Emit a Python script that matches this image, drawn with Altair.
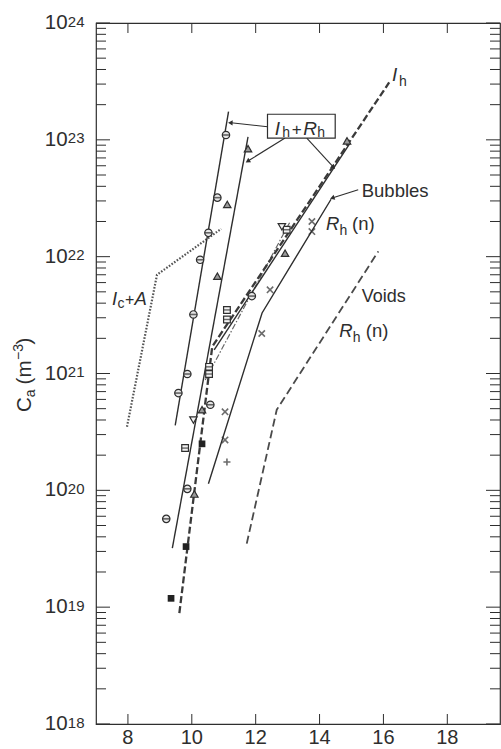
import altair as alt
import pandas as pd

FONT = "Liberation Sans"
INK = "#2e2e2e"

# ---------------- axes ----------------
X_DOMAIN = [7.0, 19.65]
Y_DOMAIN = [1e18, 1e24]
x_ticks = [8, 10, 12, 14, 16, 18]
decades = [18, 19, 20, 21, 22, 23, 24]
minor_mult = [2, 3, 4, 5, 6, 7, 8, 9]

# ---------------- curves ----------------
ica_x = [7.97, 8.91, 10.92]
ica_y = [3.5e20, 7.0e21, 1.73e22]

lineB_x = [9.48, 11.15]
lineB_y = [3.6e20, 1.74e23]

lineC_x = [9.39, 11.76]
lineC_y = [3.2e19, 1.06e23]

ih_x = [9.61, 10.64, 16.18]
ih_y = [8.9e18, 1.7e21, 3.1e23]

ihrh_x = [10.70, 14.96]
ihrh_y = [1.59e21, 9.4e22]

dashdot_x = [10.42, 13.08]
dashdot_y = [8.8e20, 2.0e22]

bubbles_x = [10.52, 12.20, 14.36]
bubbles_y = [1.14e20, 3.3e21, 3.1e22]

voids_x = [11.72, 12.66, 15.84]
voids_y = [3.5e19, 4.9e20, 1.11e22]

# ---------------- measured points ----------------
circ_x = [9.58, 9.86, 10.05, 10.26, 10.52, 10.80, 11.07, 9.20, 9.86, 10.58, 11.88]
circ_y = [6.8e20, 9.9e20, 3.2e21, 9.4e21, 1.6e22, 3.2e22, 1.1e23, 5.7e19, 1.03e20, 5.4e20, 4.6e21]

tri_x = [11.11, 11.76, 10.80, 10.08, 12.92, 10.32, 14.86]
tri_y = [2.8e22, 8.4e22, 6.8e21, 9.3e19, 1.07e22, 4.9e20, 9.8e22]

osq_x = [10.54, 10.54, 11.10, 11.10, 12.97, 9.79]
osq_y = [1.14e21, 9.9e20, 3.5e21, 2.9e21, 1.7e22, 2.3e20]

itri_x = [10.05, 12.82]
itri_y = [4.0e20, 1.8e22]

fsq_x = [10.32, 9.82, 9.35]
fsq_y = [2.5e20, 3.3e19, 1.19e19]

cross_x = [11.04, 11.04, 12.19, 12.45, 13.76, 13.76]
cross_y = [4.7e20, 2.7e20, 2.2e21, 5.2e21, 1.64e22, 2.0e22]

plus_x = [11.10]
plus_y = [1.75e20]

# ---------------- annotation geometry (data units) ----------------
box_x = [12.37, 14.49]
box_y = [1.656e23, 1.035e23]
arrow_left = ([12.37, 11.23], [1.294e23, 1.40e23])
arrow_mid = ([12.92, 11.77], [1.035e23, 6.62e22])
arrow_right = ([13.60, 14.42], [1.035e23, 5.89e22])
arrow_bub = ([15.21, 14.42], [3.74e22, 3.19e22])

W, H = 404, 701

xscale = alt.Scale(domain=X_DOMAIN, nice=False, zero=False)
yscale = alt.Scale(type="log", domain=Y_DOMAIN, nice=False)


def X(field="x"):
    return alt.X(f"{field}:Q", scale=xscale, axis=None)


def Y(field="y"):
    return alt.Y(f"{field}:Q", scale=yscale, axis=None)


def curve(xs, ys, **style):
    df = pd.DataFrame({"x": xs, "y": ys, "o": list(range(len(xs)))})
    return alt.Chart(df).mark_line(**style).encode(x=X(), y=Y(), order="o:O")


def points(xs, ys, **style):
    df = pd.DataFrame({"x": xs, "y": ys})
    return alt.Chart(df).mark_point(**style).encode(x=X(), y=Y())


def seg(pair, **style):
    (xa, xb), (ya, yb) = pair
    df = pd.DataFrame({"x": [xa], "x2": [xb], "y": [ya], "y2": [yb]})
    return alt.Chart(df).mark_rule(**style).encode(
        x=X(), x2="x2:Q", y=Y(), y2="y2:Q")


def head(pair, angle):
    (xa, xb), (ya, yb) = pair
    df = pd.DataFrame({"x": [xb], "y": [yb]})
    return alt.Chart(df).mark_point(
        shape="triangle", filled=True, color=INK, size=28, angle=angle, opacity=1
    ).encode(x=X(), y=Y())


def label(x, y, s, size=18, italic=False, dx=0, dy=0):
    return alt.Chart(alt.Data(values=[{"x": x, "y": y}])).mark_text(
        text=s, font=FONT, fontSize=size, color=INK, align="left",
        baseline="alphabetic", dx=dx, dy=dy,
        fontStyle="italic" if italic else "normal",
    ).encode(x=X(), y=Y())


def ptext(px, py, s, size, angle=0):
    return alt.Chart(alt.Data(values=[{}])).mark_text(
        text=s, font=FONT, fontSize=size, color=INK, align="left",
        baseline="alphabetic", angle=angle,
    ).encode(x=alt.value(px), y=alt.value(py))


# ---------------- frame ticks and tick labels ----------------
xt = pd.DataFrame({"x": x_ticks, "t": [str(v) for v in x_ticks]})
bottom_ticks = alt.Chart(xt).mark_rule(color=INK, strokeWidth=1).encode(
    x=X(), y=alt.value(H), y2=alt.value(H - 10))
top_ticks = alt.Chart(xt).mark_rule(color=INK, strokeWidth=1).encode(
    x=X(), y=alt.value(0), y2=alt.value(10))
x_labels = alt.Chart(xt).mark_text(
    font=FONT, fontSize=20, color=INK, align="center", baseline="alphabetic"
).encode(x=X(), y=alt.value(H + 20), text="t:N")

major = pd.DataFrame({"y": [10.0 ** d for d in decades], "e": [str(d) for d in decades]})
minor = pd.DataFrame({"y": [m * 10.0 ** d for d in decades[:-1] for m in minor_mult]})

left_major = alt.Chart(major).mark_rule(color=INK).encode(
    y=Y(), x=alt.value(0), x2=alt.value(14))
left_minor = alt.Chart(minor).mark_rule(color=INK).encode(
    y=Y(), x=alt.value(0), x2=alt.value(10))
right_major = alt.Chart(major).mark_rule(color=INK).encode(
    y=Y(), x=alt.value(W - 14), x2=alt.value(W))
right_minor = alt.Chart(minor).mark_rule(color=INK).encode(
    y=Y(), x=alt.value(W - 10), x2=alt.value(W))

ten = alt.Chart(major).mark_text(
    text="10", font=FONT, fontSize=20.5, color=INK, align="right", baseline="middle"
).encode(y=Y(), x=alt.value(-28.4))
expo = alt.Chart(major).mark_text(
    font=FONT, fontSize=15, color=INK, align="left", baseline="alphabetic", dy=3.5
).encode(y=Y(), x=alt.value(-28.2), text="e:N")

# y title: C_a (m^-3), reading bottom to top
ytitle = [
    ptext(-65, 389, "C", 20.5, 270),
    ptext(-61, 374.2, "a", 14, 270),
    ptext(-65, 361.4, "(m", 20.5, 270),
    ptext(-73, 337.0, "\u22123", 14, 270),
    ptext(-65, 321.5, ")", 20.5, 270),
]

# ---------------- curves ----------------
curves = [
    curve(ica_x, ica_y, color="#555", strokeWidth=2.2, strokeDash=[1.6, 1.6]),
    curve(lineB_x, lineB_y, color=INK, strokeWidth=1.4),
    curve(lineC_x, lineC_y, color=INK, strokeWidth=1.4),
    curve(dashdot_x, dashdot_y, color="#666", strokeWidth=1.2, strokeDash=[6, 2, 1.5, 2]),
    curve(ihrh_x, ihrh_y, color=INK, strokeWidth=1.4),
    curve(ih_x, ih_y, color="#3a3a3a", strokeWidth=2.3, strokeDash=[7, 3]),
    curve(bubbles_x, bubbles_y, color=INK, strokeWidth=1.4),
    curve(voids_x, voids_y, color="#4a4a4a", strokeWidth=1.8, strokeDash=[8, 4]),
]

# ---------------- markers ----------------
bar = "M-1,0L1,0"
markers = [
    points(circ_x, circ_y, shape="circle", filled=True, fill="#e6e6e6", stroke=INK,
           strokeWidth=1.2, size=55, opacity=1),
    points(circ_x, circ_y, shape=bar, filled=False, stroke=INK, strokeWidth=1.6, size=55),
    points(osq_x, osq_y, shape="square", filled=True, fill="#f2f2f2", stroke=INK,
           strokeWidth=1.2, size=45, opacity=1),
    points(osq_x, osq_y, shape=bar, filled=False, stroke=INK, strokeWidth=1.4, size=45),
    points(tri_x, tri_y, shape="triangle-up", filled=True, fill="#9a9a9a", stroke=INK,
           strokeWidth=1.2, size=55, opacity=1),
    points(itri_x, itri_y, shape="triangle-down", filled=True, fill="#f2f2f2", stroke=INK,
           strokeWidth=1.2, size=55, opacity=1),
    points(fsq_x, fsq_y, shape="square", filled=True, color="#222", size=45, opacity=1),
    points(cross_x, cross_y, shape="M-1,-1L1,1M1,-1L-1,1", filled=False, stroke=INK,
           strokeWidth=1.6, size=40),
    points(plus_x, plus_y, shape="M-1,0L1,0M0,-1L0,1", filled=False, stroke=INK,
           strokeWidth=1.6, size=50),
]

# ---------------- annotations ----------------
box = alt.Chart(pd.DataFrame({"x": [box_x[0]], "x2": [box_x[1]],
                              "y": [box_y[0]], "y2": [box_y[1]]})).mark_rect(
    fill="white", stroke=INK, strokeWidth=1.2
).encode(x=X(), x2="x2:Q", y=Y(), y2="y2:Q")

arrows = [
    seg(arrow_left, color=INK, strokeWidth=1.1), head(arrow_left, 272),
    seg(arrow_mid, color=INK, strokeWidth=1.1), head(arrow_mid, 238),
    seg(arrow_right, color=INK, strokeWidth=1.1), head(arrow_right, 137),
    seg(arrow_bub, color=INK, strokeWidth=1.1), head(arrow_bub, 252),
]

texts = [
    # I_h at the top of the dashed curve
    label(16.27, 3.16e23, "I", 19, italic=True),
    label(16.27, 3.16e23, "h", 14, dx=7, dy=4.5),
    # I_h + R_h inside the box
    label(12.60, 1.107e23, "I", 19, italic=True),
    label(12.60, 1.107e23, "h", 14, dx=7.5, dy=2.5),
    label(12.60, 1.107e23, "+", 17, dx=17),
    label(12.60, 1.107e23, "R", 19, italic=True, dx=28.5),
    label(12.60, 1.107e23, "h", 14, dx=42.5, dy=2.5),
    # Bubbles
    label(15.32, 3.27e22, "Bubbles", 18.5),
    # upper R_h (n)
    label(14.205, 1.70e22, "R", 18.5, italic=True),
    label(14.205, 1.70e22, "h", 14, dx=13.5, dy=5),
    label(14.205, 1.70e22, "(n)", 18.5, dx=26),
    # Voids
    label(15.32, 4.13e21, "Voids", 18),
    # lower R_h (n)
    label(14.62, 2.07e21, "R", 18.5, italic=True),
    label(14.62, 2.07e21, "h", 14, dx=13.5, dy=5),
    label(14.62, 2.07e21, "(n)", 18.5, dx=26.5),
    # I_c + A
    label(7.50, 3.87e21, "I", 18.5, italic=True),
    label(7.50, 3.87e21, "c", 14, dx=5.5, dy=3),
    label(7.50, 3.87e21, "+", 16, dx=13),
    label(7.50, 3.87e21, "A", 18.5, italic=True, dx=22.5),
]

chart = alt.layer(
    bottom_ticks, top_ticks, x_labels, left_major, left_minor, right_major, right_minor,
    ten, expo, *ytitle, *curves, *markers, *arrows, box, *texts,
).properties(
    width=W, height=H,
    autosize=alt.AutoSizeParams(type="none"),
    padding={"left": 96, "top": 23, "right": 1, "bottom": 25},
    background="white",
).configure_view(stroke=INK, strokeWidth=1.2)

chart.save("out.html", embed_options={"renderer": "svg", "actions": False})
